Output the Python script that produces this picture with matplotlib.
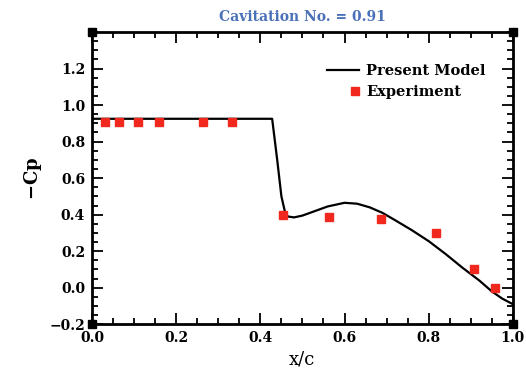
import matplotlib
matplotlib.use("Agg")
import matplotlib.pyplot as plt
from matplotlib.ticker import MultipleLocator
from matplotlib.legend_handler import HandlerLine2D

# experiment points
exp_x = [0.03, 0.064, 0.11, 0.16, 0.263, 0.333, 0.454, 0.563, 0.686, 0.817, 0.907, 0.957]
exp_y = [0.91, 0.91, 0.91, 0.91, 0.91, 0.91, 0.40, 0.387, 0.376, 0.30, 0.10, 0.0]

# present model curve
model_x = [0.0, 0.428, 0.432, 0.44, 0.45, 0.458, 0.465, 0.48, 0.50, 0.53, 0.56, 0.60,
           0.63, 0.66, 0.69, 0.72, 0.76, 0.80, 0.84, 0.88, 0.92, 0.95, 0.975, 1.0]
model_y = [0.925, 0.925, 0.85, 0.70, 0.50, 0.42, 0.39, 0.385, 0.395, 0.42, 0.445, 0.465,
           0.46, 0.44, 0.41, 0.37, 0.315, 0.255, 0.185, 0.11, 0.04, -0.02, -0.06, -0.09]

plt.rcParams['font.family'] = ['DejaVu Serif']
plt.rcParams['font.weight'] = 'bold'
plt.rcParams['axes.labelweight'] = 'bold'
plt.rcParams['axes.titleweight'] = 'bold'


# put the legend marker at the right end of the handle, next to the text
class RightMarker(HandlerLine2D):
    def create_artists(self, legend, orig_handle, xdescent, ydescent,
                       width, height, fontsize, trans):
        arts = super().create_artists(legend, orig_handle, xdescent, ydescent,
                                      width, height, fontsize, trans)
        for a in arts:
            if a.get_marker() not in (None, 'None', ''):
                y = a.get_ydata()
                a.set_xdata([width - xdescent - 3] * len(y))
        return arts


fig = plt.figure(figsize=(5.26, 3.86), dpi=100)
ax = fig.add_axes([0.175, 0.16, 0.80, 0.757])

ax.plot(model_x, model_y, color='black', lw=1.6, label='Present Model')
pts, = ax.plot(exp_x, exp_y, 's', color='#f0281e', ms=6, label='Experiment')

ax.set_xlim(0, 1.0)
ax.set_ylim(-0.2, 1.4)
ax.xaxis.set_major_locator(MultipleLocator(0.2))
ax.xaxis.set_minor_locator(MultipleLocator(0.05))
ax.yaxis.set_minor_locator(MultipleLocator(0.05))
ax.set_yticks([-0.2, 0.0, 0.2, 0.4, 0.6, 0.8, 1.0, 1.2])
ax.tick_params(which='both', direction='in', top=True, right=True, width=1.3)
ax.tick_params(which='major', length=8, labelsize=10, pad=5)
ax.tick_params(which='minor', length=4)
for s in ax.spines.values():
    s.set_linewidth(2)

# corner squares
ax.plot([0, 1, 0, 1], [0, 0, 1, 1], 's', color='black', ms=6,
        transform=ax.transAxes, clip_on=False)

ax.set_xlabel('x/c', fontsize=13, labelpad=4, fontweight='normal')
ax.set_ylabel('$-$Cp', fontsize=13, labelpad=4)
ax.set_title('Cavitation No. = 0.91', color='#4a70b8', fontsize=10, pad=8)

ax.legend(loc='upper right', frameon=False, fontsize=10.5, handlelength=2.2,
          bbox_to_anchor=(0.95, 0.91), borderaxespad=0, handletextpad=0.5,
          handler_map={pts: RightMarker(numpoints=1)})

fig.savefig('out.png', dpi=100)
